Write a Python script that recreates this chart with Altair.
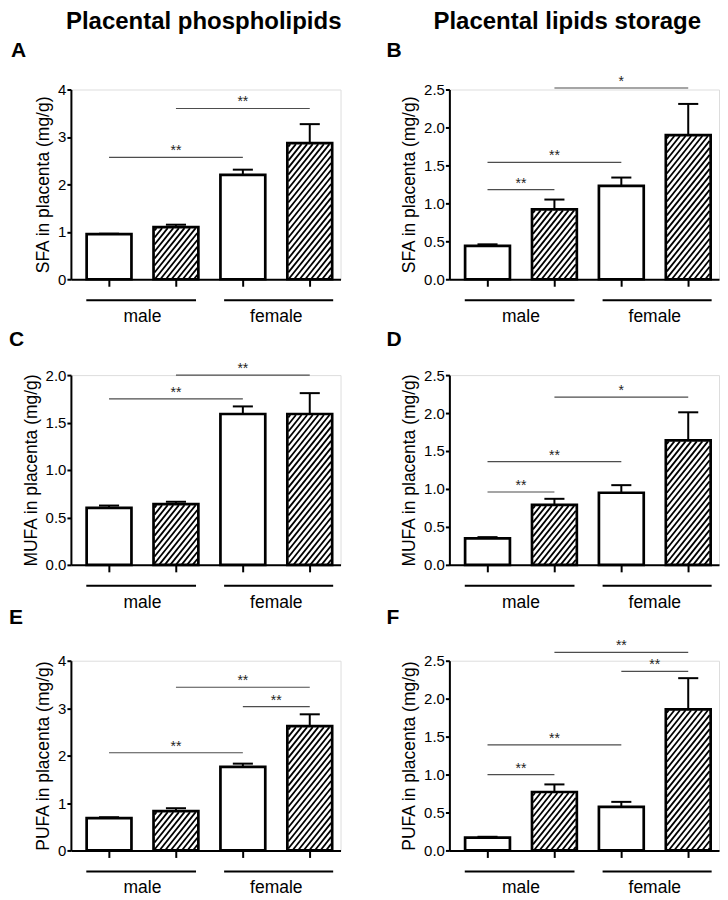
import altair as alt
import pandas as pd

# ---------------- data ----------------
positions = [1, 2, 3, 4]
hatched = [False, True, False, True]
group_labels = ["male", "female"]
group_centers = [1.5, 3.5]
group_starts = [0.66, 2.72]
group_ends = [2.30, 4.35]

panel_letters = ["A", "B", "C", "D", "E", "F"]
column_titles = ["Placental phospholipids", "Placental lipids storage"]
y_titles = ["SFA in placenta (mg/g)", "SFA in placenta (mg/g)",
            "MUFA in placenta (mg/g)", "MUFA in placenta (mg/g)",
            "PUFA in placenta (mg/g)", "PUFA in placenta (mg/g)"]
y_max = [4, 2.5, 2.0, 2.5, 4, 2.5]
ticks_int4 = [0, 1, 2, 3, 4]
ticks_25 = [0, 0.5, 1.0, 1.5, 2.0, 2.5]
ticks_20 = [0, 0.5, 1.0, 1.5, 2.0]

means_A = [0.95, 1.10, 2.20, 2.87]
sem_A = [0.01, 0.05, 0.11, 0.40]
sig_from_A = [1, 2]
sig_to_A = [3, 4]
sig_level_A = [2.57, 3.60]
sig_stars_A = ["**", "**"]

means_B = [0.44, 0.92, 1.23, 1.90]
sem_B = [0.02, 0.13, 0.11, 0.41]
sig_from_B = [1, 1, 2]
sig_to_B = [2, 3, 4]
sig_level_B = [1.18, 1.54, 2.52]
sig_stars_B = ["**", "**", "*"]

means_C = [0.60, 0.64, 1.59, 1.59]
sem_C = [0.025, 0.025, 0.08, 0.22]
sig_from_C = [1, 2]
sig_to_C = [3, 4]
sig_level_C = [1.75, 2.00]
sig_stars_C = ["**", "**"]

means_D = [0.35, 0.79, 0.95, 1.64]
sem_D = [0.015, 0.08, 0.10, 0.37]
sig_from_D = [1, 1, 2]
sig_to_D = [2, 3, 4]
sig_level_D = [0.96, 1.36, 2.21]
sig_stars_D = ["**", "**", "*"]

means_E = [0.68, 0.83, 1.76, 2.62]
sem_E = [0.02, 0.06, 0.07, 0.25]
sig_from_E = [1, 3, 2]
sig_to_E = [3, 4, 4]
sig_level_E = [2.06, 3.03, 3.44]
sig_stars_E = ["**", "**", "**"]

means_F = [0.17, 0.77, 0.575, 1.86]
sem_F = [0.01, 0.10, 0.065, 0.41]
sig_from_F = [1, 1, 3, 2]
sig_to_F = [2, 3, 4, 4]
sig_level_F = [1.00, 1.39, 2.36, 2.61]
sig_stars_F = ["**", "**", "**", "**"]

letter_dx = [-60, -63, -62, -63, -62, -63]
letter_dy = [-33, -33, -29, -29, -37, -37]
title_cx = [133, 118]

# ---------------- layout constants ----------------
XDOM = [0.43, 4.46]
W, H = 270, 190
HW = 0.335
FONT = "Liberation Sans"


def hatch_lines(means, ymax, spacing=5.6, slope=1.25):
    xs = W / (XDOM[1] - XDOM[0])
    ys = H / ymax
    rows = []
    for p, m, h in zip(positions, means, hatched):
        if not h:
            continue
        L = (p - HW - XDOM[0]) * xs + 1
        R = (p + HW - XDOM[0]) * xs - 1
        T = m * ys - 1
        c = L - T / slope + 2.0
        while c < R:
            p0 = max(L, c)
            p1 = min(R, c + T / slope)
            if p1 > p0:
                y0 = slope * (p0 - c)
                y1 = slope * (p1 - c)
                rows.append({"hx": p0 / xs + XDOM[0], "hx2": p1 / xs + XDOM[0],
                             "hy": y0 / ys, "hy2": y1 / ys})
            c += spacing
    return pd.DataFrame(rows)


def panel(i, means, sems, sfrom, sto, slevel, sstars, ticks, fmt):
    ymax = y_max[i]
    xsc = alt.Scale(domain=XDOM, nice=False, zero=False)
    ysc = alt.Scale(domain=[0, ymax], nice=False, zero=True)
    xaxis = alt.Axis(values=positions, labels=False, title=None, grid=False,
                     tickSize=7, tickWidth=2, domainWidth=2,
                     domainColor="black", tickColor="black")
    yaxis = alt.Axis(values=ticks, format=fmt, title=y_titles[i], grid=False,
                     tickSize=4, tickWidth=2, domainWidth=2,
                     domainColor="black", tickColor="black",
                     labelFontSize=15, labelColor="black", labelPadding=1,
                     titleFontSize=17.5, titleFontWeight="normal",
                     titleColor="black", titlePadding=5, labelFont=FONT,
                     titleFont=FONT)

    def X(f):
        return alt.X(f, scale=xsc, axis=xaxis)

    def Y(f):
        return alt.Y(f, scale=ysc, axis=yaxis)

    bars = pd.DataFrame({"pos": positions, "mean": means, "sem": sems})
    bars["left"] = bars["pos"] - HW
    bars["right"] = bars["pos"] + HW
    bars["base"] = 0.0
    bars["top"] = bars["mean"] + bars["sem"]
    bars["cl"] = bars["pos"] - 0.15
    bars["cr"] = bars["pos"] + 0.15
    base = alt.Chart(bars)

    fill = base.mark_rect(fill="white", strokeWidth=0).encode(
        x=X("left:Q"), x2="right:Q", y=Y("mean:Q"), y2="base:Q")
    hatch = alt.Chart(hatch_lines(means, ymax)).mark_rule(
        color="black", strokeWidth=1.8, strokeCap="butt").encode(
        x=X("hx:Q"), x2="hx2:Q", y=Y("hy:Q"), y2="hy2:Q")
    outline = base.mark_rect(fillOpacity=0, stroke="black", strokeWidth=2.7).encode(
        x=X("left:Q"), x2="right:Q", y=Y("mean:Q"), y2="base:Q")
    err = base.mark_rule(color="black", strokeWidth=2).encode(
        x=X("pos:Q"), y=Y("mean:Q"), y2="top:Q")
    cap = base.mark_rule(color="black", strokeWidth=2).encode(
        x=X("cl:Q"), x2="cr:Q", y=Y("top:Q"))

    sig = pd.DataFrame({"a": sfrom, "b": sto, "lvl": slevel, "stars": sstars})
    sig["mid"] = (sig["a"] + sig["b"]) / 2
    sig_line = alt.Chart(sig).mark_rule(color="#4d4d4d", strokeWidth=1.2).encode(
        x=X("a:Q"), x2="b:Q", y=Y("lvl:Q"))
    sig_text = alt.Chart(sig).mark_text(
        fontSize=14, dy=-2, baseline="alphabetic", align="center",
        color="#222222", font=FONT).encode(
        x=X("mid:Q"), y=Y("lvl:Q"), text="stars:N")

    grp = pd.DataFrame({"gs": group_starts, "ge": group_ends,
                        "gc": group_centers, "label": group_labels})
    grp_line = alt.Chart(grp).mark_rule(color="black", strokeWidth=2).encode(
        x=X("gs:Q"), x2="ge:Q", y=alt.value(H + 21))
    grp_text = alt.Chart(grp).mark_text(
        fontSize=17.5, baseline="alphabetic", align="center", color="black",
        font=FONT).encode(x=X("gc:Q"), y=alt.value(H + 43), text="label:N")

    letter = alt.Chart(pd.DataFrame({"t": [panel_letters[i]]})).mark_text(
        fontSize=21, fontWeight="bold", align="left", baseline="alphabetic",
        color="black", font=FONT).encode(
        x=alt.value(letter_dx[i]), y=alt.value(letter_dy[i]), text="t:N")

    layers = [fill, hatch, outline, err, cap, sig_line, sig_text,
              grp_line, grp_text, letter]
    if i < 2:
        ttl = alt.Chart(pd.DataFrame({"t": [column_titles[i]]})).mark_text(
            fontSize=24, fontWeight="bold", align="center",
            baseline="alphabetic", color="black", font=FONT).encode(
            x=alt.value(title_cx[i]), y=alt.value(-61), text="t:N")
        layers.append(ttl)
    return alt.layer(*layers).properties(width=W, height=H)


pA = panel(0, means_A, sem_A, sig_from_A, sig_to_A, sig_level_A, sig_stars_A, ticks_int4, "d")
pB = panel(1, means_B, sem_B, sig_from_B, sig_to_B, sig_level_B, sig_stars_B, ticks_25, ".1f")
pC = panel(2, means_C, sem_C, sig_from_C, sig_to_C, sig_level_C, sig_stars_C, ticks_20, ".1f")
pD = panel(3, means_D, sem_D, sig_from_D, sig_to_D, sig_level_D, sig_stars_D, ticks_25, ".1f")
pE = panel(4, means_E, sem_E, sig_from_E, sig_to_E, sig_level_E, sig_stars_E, ticks_int4, "d")
pF = panel(5, means_F, sem_F, sig_from_F, sig_to_F, sig_level_F, sig_stars_F, ticks_25, ".1f")

chart = alt.concat(pA, pB, pC, pD, pE, pF, columns=2,
                   spacing={"row": 96, "column": 109}, bounds="flush").properties(
    padding={"left": 0, "top": 0, "right": 0, "bottom": 0},
    background="white",
).configure_view(stroke=None).configure(font=FONT)

chart.save("out.html", embed_options={"renderer": "svg", "actions": False})
